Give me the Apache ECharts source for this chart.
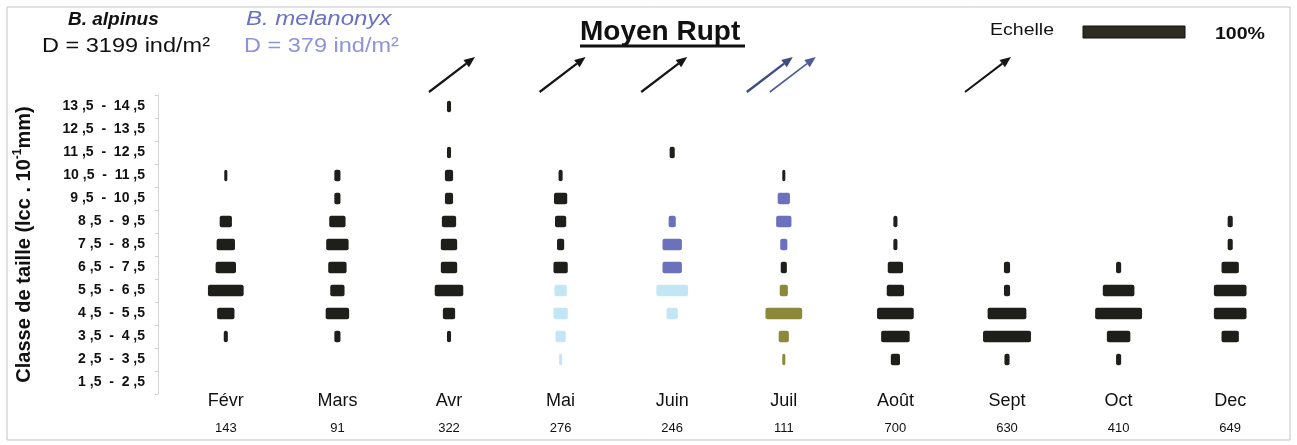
<!DOCTYPE html>
<html>
<head>
<meta charset="utf-8">
<script src="https://cdn.jsdelivr.net/npm/echarts@6/dist/echarts.min.js"></script>
<style>
  html, body { margin: 0; padding: 0; background: #fff; }
  #chart { width: 1297px; height: 445px; }
</style>
</head>
<body>
<div id="chart"></div>
<script>
var months = ['Févr', 'Mars', 'Avr', 'Mai', 'Juin', 'Juil', 'Août', 'Sept', 'Oct', 'Dec'];
var counts = [143, 91, 322, 276, 246, 111, 700, 630, 410, 649];
var sizeClasses = ['1,5 - 2,5', '2,5 - 3,5', '3,5 - 4,5', '4,5 - 5,5', '5,5 - 6,5', '6,5 - 7,5',
  '7,5 - 8,5', '8,5 - 9,5', '9,5 - 10,5', '10,5 - 11,5', '11,5 - 12,5', '12,5 - 13,5', '13,5 - 14,5'];

// B. alpinus, % per size class (bottom class first), one row per month
var alpinusPct = [
  [0, 0, 4, 17, 35, 20, 18, 12, 0, 3, 0, 0, 0],   // Févr
  [0, 0, 6, 23, 14, 18, 22, 16, 6, 6, 0, 0, 0],   // Mars
  [0, 0, 4, 12, 28, 16, 16, 14, 8, 8, 4, 0, 4],   // Avr
  [0, 0, 0, 0, 0, 14, 7, 11, 13, 4, 0, 0, 0],     // Mai
  [0, 0, 0, 0, 0, 0, 0, 0, 0, 0, 5, 0, 0],        // Juin
  [0, 0, 0, 0, 0, 6, 0, 0, 0, 3, 0, 0, 0],        // Juil
  [0, 9, 28, 36, 17, 15, 4, 4, 0, 0, 0, 0, 0],    // Août
  [0, 5, 47, 38, 6, 6, 0, 0, 0, 0, 0, 0, 0],      // Sept
  [0, 5, 23, 46, 31, 5, 0, 0, 0, 0, 0, 0, 0],     // Oct
  [0, 0, 17, 32, 32, 17, 5, 5, 0, 0, 0, 0, 0]     // Dec
];
// B. melanonyx [month, size class, %]
var melanonyxPct = [
  ['Juin', '8,5 - 9,5', 7], ['Juin', '7,5 - 8,5', 19], ['Juin', '6,5 - 7,5', 19],
  ['Juil', '9,5 - 10,5', 12], ['Juil', '8,5 - 9,5', 15], ['Juil', '7,5 - 8,5', 7]
];
// pale blue cohorts
var paleBluePct = [
  ['Mai', '5,5 - 6,5', 12], ['Mai', '4,5 - 5,5', 14], ['Mai', '3,5 - 4,5', 10], ['Mai', '2,5 - 3,5', 2],
  ['Juin', '5,5 - 6,5', 31], ['Juin', '4,5 - 5,5', 11]
];
// olive cohort
var olivePct = [
  ['Juil', '5,5 - 6,5', 8], ['Juil', '4,5 - 5,5', 36], ['Juil', '3,5 - 4,5', 10], ['Juil', '2,5 - 3,5', 3]
];
var arrowMonths = ['Avr', 'Mai', 'Juin', 'Juil', 'Juil', 'Sept'];

var pxPerPct = 1.02;
var FONT = 'Liberation Sans, Arial, sans-serif';

function toItems(list) {
  return list.map(function (d) {
    return [months.indexOf(d[0]), sizeClasses.indexOf(d[1]), d[2]];
  });
}
var alpinusItems = [];
alpinusPct.forEach(function (row, m) {
  row.forEach(function (v, k) { if (v > 0) alpinusItems.push([m, k, v]); });
});

function barRenderer(color) {
  return function (params, api) {
    var c = api.coord([api.value(0), api.value(1)]);
    var band = api.size([0, 1])[1];
    var w = Math.max(api.value(2) * pxPerPct, 3);
    var h = band * 0.49;
    return {
      type: 'rect',
      shape: { x: c[0] - w / 2, y: c[1] - h / 2, width: w, height: h, r: 2 },
      style: { fill: color }
    };
  };
}

function barSeries(name, items, color) {
  return {
    type: 'custom', name: name, data: items,
    encode: { x: 0, y: 1 },
    renderItem: barRenderer(color),
    silent: true
  };
}

var arrowShift = [-20, -21, -31, -37, -14, -42];
var arrowColor = ['#151515', '#151515', '#151515', '#3d4d7e', '#4d5d98', '#151515'];
var arrowWidth = [2.2, 2.2, 2.2, 2.4, 1.6, 2];

var chart = echarts.init(document.getElementById('chart'));
chart.setOption({
  backgroundColor: '#fff',
  animation: false,
  grid: { left: 170, right: 11, top: 95, bottom: 51, outerBoundsMode: 'none' },
  xAxis: {
    type: 'category',
    data: months,
    axisLine: { show: false },
    axisTick: { show: false },
    splitLine: { show: false },
    axisLabel: {
      margin: -6,
      interval: 0,
      formatter: function (v, i) { return '{m|' + v + '}\n{c|' + counts[i] + '}'; },
      rich: {
        m: { fontFamily: FONT, fontSize: 18, color: '#111', lineHeight: 26 },
        c: { fontFamily: 'Liberation Sans Narrow, ' + FONT, fontSize: 13, color: '#111', lineHeight: 28 }
      }
    }
  },
  yAxis: {
    type: 'category',
    data: sizeClasses,
    offset: 12,
    axisLine: { show: true, lineStyle: { color: '#d4d4d4', width: 1 } },
    axisTick: { show: true, length: 3, lineStyle: { color: '#cfcfcf' } },
    splitLine: { show: false },
    axisLabel: {
      margin: 13,
      fontFamily: FONT,
      fontWeight: 'bold',
      fontSize: 14,
      color: '#111',
      formatter: function (v) { return v.replace(/,/g, ' ,').replace(' - ', '  -  '); }
    },
    name: '{a|Classe de taille (lcc . 10}{s|-1}{a|mm)}',
    nameLocation: 'middle',
    nameGap: 122,
    nameRotate: 90,
    nameTextStyle: {
      rich: {
        a: { fontFamily: FONT, fontWeight: 'bold', fontSize: 20, color: '#111', lineHeight: 24 },
        s: { fontFamily: FONT, fontWeight: 'bold', fontSize: 12, color: '#111', lineHeight: 24, verticalAlign: 'top' }
      }
    }
  },
  series: [
    barSeries('B. alpinus', alpinusItems, '#1e1e1a'),
    barSeries('B. melanonyx', toItems(melanonyxPct), '#6b71bd'),
    barSeries('pale', toItems(paleBluePct), '#c3e6f4'),
    barSeries('olive', toItems(olivePct), '#8d893a'),
    {
      type: 'custom',
      name: 'arrows',
      silent: true,
      clip: false,
      data: arrowMonths.map(function (m) { return [months.indexOf(m), sizeClasses.length - 1]; }),
      encode: { x: 0, y: 1 },
      renderItem: function (params, api) {
        var i = params.dataIndex;
        var c = api.coord([api.value(0), api.value(1)]);
        var band = api.size([0, 1])[1];
        var x0 = c[0] + arrowShift[i];
        var y0 = c[1] - band / 2 - 3;
        var x1 = x0 + 46, y1 = y0 - 35;
        var ang = Math.atan2(y1 - y0, x1 - x0);
        var hl = 11, hw = 4.5;
        var bx = x1 - hl * Math.cos(ang), by = y1 - hl * Math.sin(ang);
        var px = -Math.sin(ang) * hw, py = Math.cos(ang) * hw;
        return {
          type: 'group',
          children: [
            { type: 'line', shape: { x1: x0, y1: y0, x2: bx, y2: by },
              style: { stroke: arrowColor[i], lineWidth: arrowWidth[i] } },
            { type: 'polygon', shape: { points: [[x1, y1], [bx + px, by + py], [bx - px, by - py]] },
              style: { fill: arrowColor[i] } }
          ]
        };
      }
    }
  ],
  graphic: [
    { type: 'rect', silent: true, z: -10,
      shape: { x: 7, y: 7, width: 1283, height: 433 },
      style: { fill: 'none', stroke: '#c4c4c4', lineWidth: 1 } },
    { type: 'text', x: 68, y: 10,
      style: { text: 'B. alpinus', font: 'italic bold 19px ' + FONT, fill: '#111' } },
    { type: 'text', x: 42, y: 36, scaleX: 1.12,
      style: { text: 'D = 3199 ind/m²', font: '21px ' + FONT, fill: '#111' } },
    { type: 'text', x: 246, y: 9, scaleX: 1.2,
      style: { text: 'B. melanonyx', font: 'italic 20px ' + FONT, fill: '#6a70c4' } },
    { type: 'text', x: 244, y: 36, scaleX: 1.12,
      style: { text: 'D = 379 ind/m²', font: '21px ' + FONT, fill: '#8e93da' } },
    { type: 'text', x: 580, y: 18,
      style: { text: 'Moyen Rupt', font: 'bold 28px ' + FONT, fill: '#111' } },
    { type: 'line', silent: true,
      shape: { x1: 580, y1: 46, x2: 745, y2: 46 },
      style: { stroke: '#111', lineWidth: 3 } },
    { type: 'text', x: 990, y: 23, scaleX: 1.22,
      style: { text: 'Echelle', font: '16px ' + FONT, fill: '#111' } },
    { type: 'rect', silent: true,
      shape: { x: 1083, y: 26, width: 100 * pxPerPct, height: 12 },
      style: { fill: '#2e2c20', stroke: '#111', lineWidth: 1 } },
    { type: 'text', x: 1215, y: 26, scaleX: 1.15,
      style: { text: '100%', font: 'bold 17px ' + FONT, fill: '#111' } }
  ]
});
</script>
</body>
</html>
